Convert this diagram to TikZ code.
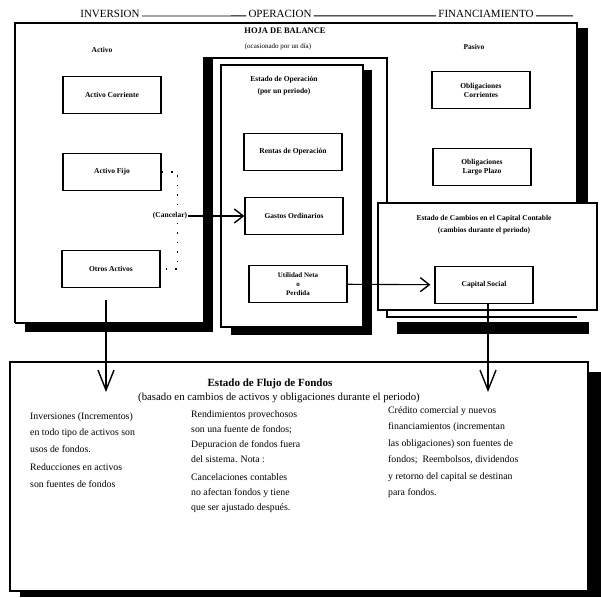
\documentclass[tikz,border=0pt]{standalone}
\usepackage{fontspec}
\setmainfont{Liberation Serif}
\usetikzlibrary{arrows.meta}
\tikzset{
  caja/.style={draw,line width=1.1pt,fill=white,minimum width=98pt,minimum height=37pt,
    align=center,font=\fontsize{7.5}{9}\selectfont\bfseries,inner sep=1pt},
  rotulo/.style={font=\fontsize{7.5}{12}\selectfont\bfseries,align=center,inner sep=1pt},
  encabezado/.style={font=\fontsize{11}{13}\selectfont,fill=white,inner sep=2pt},
  marco/.style={line width=1.2pt},
  texto/.style={font=\fontsize{9.8}{16.5}\selectfont,align=left,anchor=north west,inner sep=0pt},
  flecha/.style={line width=1.1pt,-{Straight Barb[length=9pt,width=14pt,line width=1.4pt]}},
  flechav/.style={line width=1.1pt,-{Straight Barb[length=20pt,width=16pt,line width=1.4pt]}},
  punteado/.style={line width=1.4pt,dash pattern=on 1.5pt off 8pt}
}
\newcommand{\cuenta}[4][]{\node[caja,#1] at (#2) (#3) {#4}}

\begin{document}
\begin{tikzpicture}[x=1pt,y=-1pt]
  \fill[white] (0,0) rectangle (601,597);
  \useasboundingbox (0,0) rectangle (601,597);

  \fill (577,28) rectangle (588,203);
  \draw[marco] (15,323) -- (15,23) -- (577,23) -- (577,203)
               (15,323) -- (203,323);
  \fill (25,323) rectangle (213,332);
  \fill (203,58) rectangle (213,332);
  \draw[marco] (203,58) -- (387,58) -- (387,203);
  \fill (231,70) rectangle (372,335);
  \draw[marco,fill=white] (221,65) rectangle (363,327);
  \fill (397,322) rectangle (589,334);
  \draw[marco] (387,310) -- (387,317) -- (577,317);
  \draw[marco,fill=white] (378,203) rectangle (597,310);
  \fill (20,372) rectangle (601,597);
  \draw[marco,fill=white] (10,362) rectangle (588,591);

  \node[encabezado] (inversion) at (110,14) {INVERSION};
  \node[encabezado] (operacion) at (280,14) {OPERACION};
  \node[encabezado] (financ) at (486,14) {FINANCIAMIENTO};
  \draw[line width=0.8pt] (inversion.south east) ++(0,-4) -- ([yshift=4pt]operacion.south west)
        ([yshift=4pt]operacion.south east) -- ([yshift=4pt]financ.south west)
        ([yshift=4pt]financ.south east) -- ++(37,0);

  \node[rotulo,font=\fontsize{8.5}{10}\selectfont\bfseries] (hoja) at (285,31) {HOJA DE BALANCE};
  \node[rotulo,font=\fontsize{7}{9}\selectfont] (ocasion) at (278,47) {(ocasionado por un día)};
  \node[rotulo] (activo) at (102,50) {Activo};
  \node[rotulo] (pasivo) at (474,47) {Pasivo};
  \node[rotulo] (operacion2) at (284,86) {Estado de Operación\\(por un periodo)};
  \node[rotulo] (cambios) at (484,225) {Estado de Cambios en el Capital Contable\\(cambios durante el periodo)};

  \cuenta{112,95}{corriente}{Activo Corriente};
  \cuenta{112,172}{fijo}{Activo Fijo};
  \cuenta{111,269}{otros}{Otros Activos};
  \cuenta{293,152}{rentas}{Rentas de Operación};
  \cuenta{294,216}{gastos}{Gastos Ordinarios};
  \cuenta[font=\fontsize{7}{9}\selectfont\bfseries]{298,284}{utilidad}{Utilidad Neta\\o\\Perdida};
  \cuenta{481,90}{oblcorr}{Obligaciones\\Corrientes};
  \cuenta{482,167}{obllargo}{Obligaciones\\Largo Plazo};
  \cuenta{484,285}{capital}{Capital Social};

  \draw[punteado] (fijo.east) -- ++(16,0) |- (otros.east);
  \node[rotulo,fill=white] (cancelar) at (170,216) {(Cancelar)};

  \node[font=\fontsize{11}{12}\selectfont\bfseries] (flujo) at (270,384) {Estado de Flujo de Fondos};
  \node[font=\fontsize{10.8}{12}\selectfont] (basado) at (279,398) {(basado en cambios de activos y obligaciones durante el periodo)};
  \node[texto] (usos) at (30,412) {Inversiones (Incrementos)\\ en todo tipo de activos son\\ usos de fondos.\\[2pt] Reducciones en activos\\ son fuentes de fondos};
  \node[texto,font=\fontsize{9.8}{15}\selectfont] (rendim) at (191,410) {Rendimientos provechosos\\ son una fuente de fondos;\\ Depuracion de fondos fuera\\ del sistema. Nota :\\[3pt] Cancelaciones contables\\ no afectan fondos y tiene\\ que ser ajustado después.};
  \node[texto] (credito) at (388,406) {Crédito comercial y nuevos\\ financiamientos (incrementan\\ las obligaciones) son fuentes de\\ fondos;\ \ Reembolsos, dividendos\\ y retorno del capital se destinan\\ para fondos.};

  \coordinate (bajaA) at (106,392);
  \coordinate (bajaB) at (488,392);

  \draw[flecha] (cancelar) -- (gastos);
  \draw[flecha,shorten >=4pt] (utilidad) -- (capital);
  \draw[flechav,shorten <=12pt] (otros.south -| bajaA) -- (bajaA);
  \draw[flechav] (capital.south -| bajaB) -- (bajaB);
\end{tikzpicture}
\end{document}
